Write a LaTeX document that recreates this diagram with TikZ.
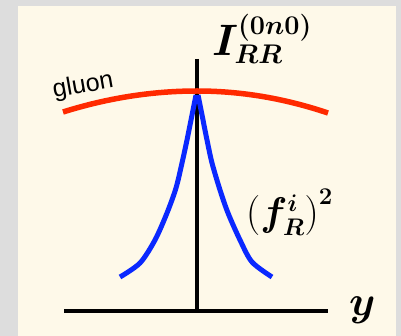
\RequirePackage{fix-cm}
\documentclass[tikz,border=0pt]{standalone}
\usepackage{amsmath}
\usepackage{bm}
\usepackage{fontspec}
\newfontfamily\sansf{Liberation Sans}
\DeclareMathSizes{44}{44}{27}{19}
\DeclareMathSizes{40}{40}{24}{17}
\DeclareMathSizes{42}{42}{26}{18}
\definecolor{bggray}{HTML}{DDDDDD}
\definecolor{cream}{HTML}{FEF9E9}
\definecolor{redc}{HTML}{FF2A00}
\definecolor{bluec}{HTML}{0A28FF}
\begin{document}
\begin{tikzpicture}[x=1pt,y=-1pt,
  axis/.style={line width=4.5pt},
  gluonline/.style={line width=5.5pt, draw=redc},
  fermline/.style={line width=5pt, draw=bluec},
  mlabel/.style={inner sep=0pt, anchor=base west}]
\fill[bggray] (0,0) rectangle (401,336);
\fill[cream] (18,6) rectangle (396,336);
\useasboundingbox (0,0) rectangle (401,336);
\coordinate (ytop) at (197,59);
\coordinate (ybot) at (197,313);
\coordinate (xl) at (64,311);
\coordinate (xr) at (328,311);
\draw[axis] (ytop) -- (ybot);
\draw[axis] (xl) -- (xr);
\draw[fermline] plot[smooth] coordinates {(120,277) (140,263) (155,240) (167,213) (176,188) (182,163) (187,140) (191,120) (196,95)};
\draw[fermline] plot[smooth] coordinates {(198,95) (203,120) (207,140) (212,163) (220,190) (228,213) (240,240) (252,262) (272,277)};
\coordinate (g1) at (63,112);
\coordinate (gpk) at (197,91);
\coordinate (g2) at (328,113);
\draw[gluonline] (g1) .. controls (107.7,98) and (152.3,91) .. (gpk)
  .. controls (240.7,91) and (284.3,98.3) .. (g2);
\node[mlabel, font=\fontsize{44}{48}\selectfont] (ilab) at (212,56) {$\bm{I}^{\boldsymbol{(0n0)}}_{\bm{RR}}$};
\node[mlabel, font=\fontsize{40}{44}\selectfont] (flab) at (246,226) {$\left(\bm{f}^{\bm i}_{\bm R}\right)^{\bm 2}$};
\node[mlabel, font=\fontsize{42}{46}\selectfont] (ylab) at (349,315) {$\bm{y}$};
\node[font=\sansf\fontsize{25}{28}\selectfont, rotate=10, anchor=base west, inner sep=0pt] (glab) at (54,98) {gluon};
\end{tikzpicture}
\end{document}
